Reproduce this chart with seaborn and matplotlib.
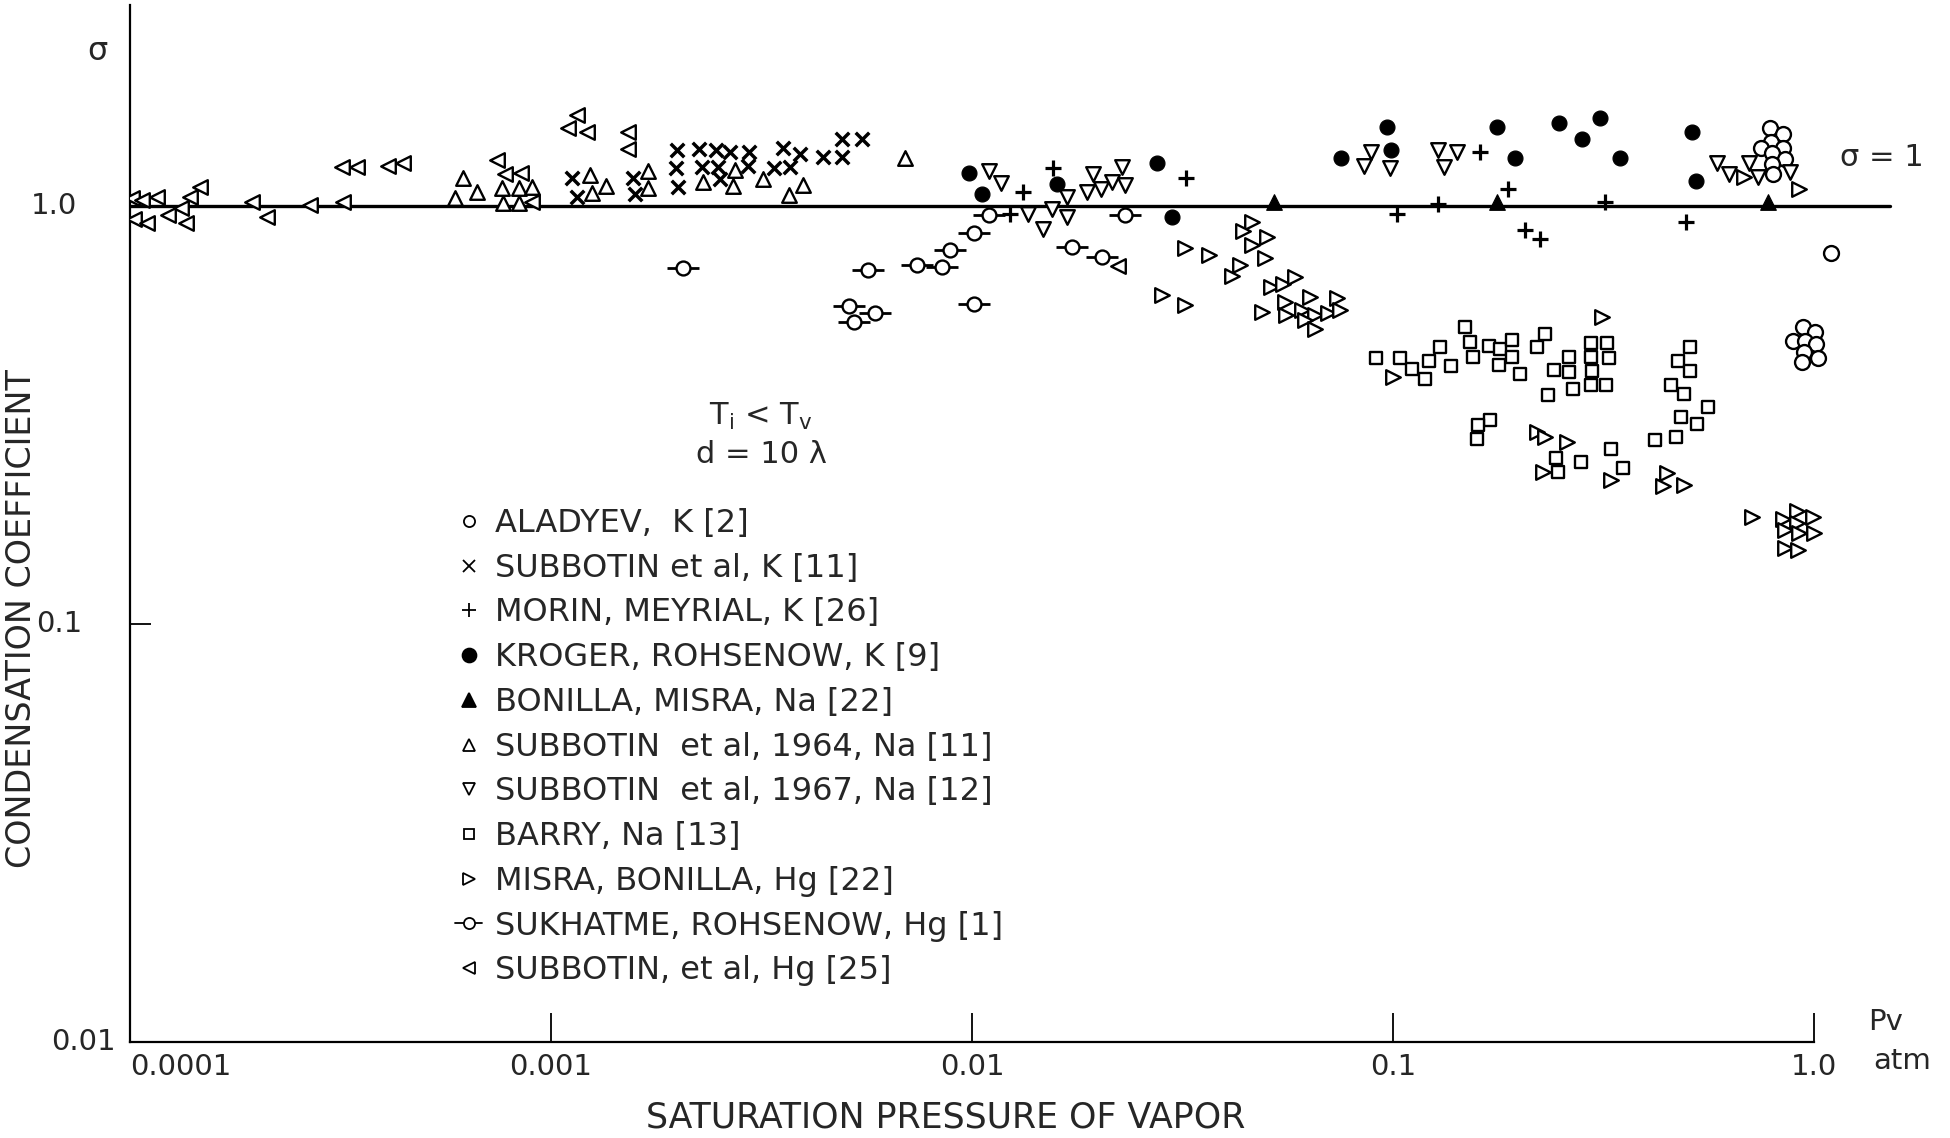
import numpy as np
import matplotlib
matplotlib.use('Agg')
import matplotlib.pyplot as plt
import seaborn as sns
from matplotlib.lines import Line2D
from matplotlib.ticker import NullLocator

sns.set_style('ticks')
plt.rcParams['font.family'] = ['DejaVu Sans']

# ---- data (pressure in atm, condensation coefficient) ----
aladyev_p = [0.786, 0.843, 0.791, 0.748, 0.843, 0.795, 0.853, 0.795, 0.799, 1.097,
             0.942, 1.005, 0.891, 0.952, 1.01, 0.947, 0.936, 1.022]
aladyev_s = [1.537, 1.487, 1.423, 1.377, 1.377, 1.339, 1.296, 1.26, 1.193, 0.772,
             0.513, 0.499, 0.475, 0.475, 0.468, 0.447, 0.423, 0.433]

subbotin_k_p = [1.12e-3, 1.15e-3, 1.57e-3, 1.58e-3, 1.99e-3, 1.98e-3, 2.00e-3, 2.25e-3,
                2.29e-3, 2.47e-3, 2.66e-3, 2.49e-3, 2.52e-3, 2.95e-3, 2.94e-3, 3.56e-3,
                3.39e-3, 3.70e-3, 3.90e-3, 4.42e-3, 4.91e-3, 4.91e-3, 5.48e-3]
subbotin_k_s = [1.167, 1.05, 1.17, 1.068, 1.36, 1.23, 1.11, 1.37, 1.24, 1.36, 1.35, 1.24,
                1.16, 1.35, 1.25, 1.38, 1.23, 1.24, 1.33, 1.31, 1.45, 1.31, 1.45]

morin_p = [0.0132, 0.0123, 0.01556, 0.0322, 0.102, 0.128, 0.188, 0.206, 0.224, 0.161,
           0.319, 0.497]
morin_s = [1.08, 0.957, 1.23, 1.17, 0.957, 1.01, 1.10, 0.876, 0.834, 1.35, 1.02, 0.916]

kroger_p = [9.84e-3, 0.01057, 0.0159, 0.0275, 0.0298, 0.0752, 0.0968, 0.0989, 0.177,
            0.195, 0.248, 0.281, 0.310, 0.346, 0.513, 0.525]
kroger_s = [1.20, 1.068, 1.13, 1.27, 0.941, 1.30, 1.545, 1.36, 1.545, 1.30, 1.58, 1.45,
            1.62, 1.30, 1.50, 1.15]

bonilla_p = [0.0521, 0.177, 0.778]
bonilla_s = [1.02, 1.02, 1.02]

subbotin64_p = [6.18e-4, 6.67e-4, 5.91e-4, 7.65e-4, 8.40e-4, 9.02e-4, 7.69e-4, 8.40e-4,
                1.24e-3, 1.25e-3, 1.35e-3, 1.70e-3, 1.70e-3, 2.30e-3, 2.74e-3, 2.70e-3,
                3.19e-3, 3.97e-3, 3.68e-3, 6.93e-3]
subbotin64_s = [1.167, 1.08, 1.045, 1.104, 1.104, 1.11, 1.017, 1.017, 1.186, 1.074, 1.117,
                1.21, 1.104, 1.14, 1.22, 1.117, 1.16, 1.12, 1.06, 1.30]

subbotin67_p = [0.01096, 0.01171, 0.0136, 0.01475, 0.0155, 0.0168, 0.0168, 0.01876,
                0.01937, 0.0202, 0.0215, 0.0227, 0.0231, 0.0887, 0.0853, 0.0984, 0.128,
                0.142, 0.132, 0.589, 0.628, 0.702, 0.736, 0.877]
subbotin67_s = [1.21, 1.135, 0.957, 0.881, 0.984, 0.941, 1.05, 1.08, 1.19, 1.10, 1.14,
                1.24, 1.12, 1.35, 1.25, 1.23, 1.36, 1.35, 1.24, 1.267, 1.193, 1.267,
                1.173, 1.206]

barry_p = [0.148, 0.152, 0.155, 0.129, 0.122, 0.137, 0.111, 0.119, 0.104, 0.0912, 0.169,
           0.180, 0.192, 0.192, 0.179, 0.200, 0.230, 0.220, 0.262, 0.241, 0.262, 0.268,
           0.233, 0.295, 0.322, 0.295, 0.326, 0.297, 0.295, 0.320, 0.507, 0.475, 0.507,
           0.457, 0.491, 0.560, 0.483, 0.527, 0.470, 0.419, 0.170, 0.159, 0.158, 0.244,
           0.246, 0.280, 0.330, 0.352]
barry_s = [0.513, 0.473, 0.435, 0.460, 0.426, 0.414, 0.407, 0.386, 0.433, 0.433, 0.463,
           0.455, 0.478, 0.435, 0.417, 0.396, 0.494, 0.460, 0.435, 0.405, 0.401, 0.365,
           0.353, 0.470, 0.470, 0.435, 0.433, 0.403, 0.373, 0.373, 0.460, 0.426, 0.403,
           0.373, 0.355, 0.331, 0.313, 0.301, 0.280, 0.275, 0.308, 0.299, 0.277, 0.249,
           0.231, 0.244, 0.262, 0.236]

misra_p = [0.0462, 0.0441, 0.0502, 0.0462, 0.0497, 0.0434, 0.0415, 0.0321, 0.0366, 0.0282,
           0.0321, 0.0489, 0.0513, 0.0548, 0.0585, 0.0553, 0.0557, 0.0635, 0.0608, 0.0653,
           0.0618, 0.0653, 0.0702, 0.0736, 0.0748, 0.313, 0.100, 0.220, 0.230, 0.259,
           0.227, 0.330, 0.448, 0.438, 0.491, 0.713, 0.912, 0.994, 0.843, 0.912, 1.0,
           0.853, 0.921, 0.853, 0.917, 0.683, 0.920]
misra_s = [0.916, 0.871, 0.843, 0.806, 0.751, 0.722, 0.680, 0.793, 0.764, 0.612, 0.580,
           0.558, 0.640, 0.651, 0.676, 0.589, 0.548, 0.606, 0.564, 0.548, 0.534, 0.508,
           0.555, 0.603, 0.564, 0.543, 0.390, 0.288, 0.280, 0.272, 0.231, 0.221, 0.230,
           0.214, 0.215, 0.180, 0.186, 0.180, 0.178, 0.174, 0.165, 0.168, 0.165, 0.152,
           0.150, 1.173, 1.098]

sukhatme_p = [2.06e-3, 5.66e-3, 5.10e-3, 5.25e-3, 5.89e-3, 7.40e-3, 8.49e-3, 8.87e-3,
              0.0101, 0.0110, 0.0101, 0.0173, 0.0204, 0.0231]
sukhatme_s = [0.711, 0.703, 0.577, 0.528, 0.555, 0.722, 0.715, 0.785, 0.862, 0.952,
              0.583, 0.798, 0.755, 0.952]

subbotin_hg_p = [1.01e-4, 1.07e-4, 1.16e-4, 1.02e-4, 1.10e-4, 1.23e-4, 1.32e-4, 1.36e-4,
                 1.39e-4, 1.47e-4, 1.95e-4, 2.12e-4, 2.68e-4, 3.21e-4, 3.19e-4, 3.46e-4,
                 4.10e-4, 4.45e-4, 7.44e-4, 7.78e-4, 8.49e-4, 9.02e-4, 1.15e-3, 1.10e-3,
                 1.22e-3, 1.52e-3, 1.52e-3, 0.0222]
subbotin_hg_s = [1.045, 1.034, 1.05, 0.931, 0.911, 0.952, 0.989, 0.911, 1.05, 1.11, 1.022,
                 0.941, 1.006, 1.022, 1.24, 1.24, 1.25, 1.27, 1.29, 1.19, 1.20, 1.02, 1.65,
                 1.54, 1.50, 1.50, 1.37, 0.719]

sigma_line_p = [1e-4, 1.515]
sigma_line_s = [1.0, 1.0]

legend_labels = ['ALADYEV,  K [2]', 'SUBBOTIN et al, K [11]', 'MORIN, MEYRIAL, K [26]',
                 'KROGER, ROHSENOW, K [9]', 'BONILLA, MISRA, Na [22]',
                 'SUBBOTIN  et al, 1964, Na [11]', 'SUBBOTIN  et al, 1967, Na [12]',
                 'BARRY, Na [13]', 'MISRA, BONILLA, Hg [22]',
                 'SUKHATME, ROHSENOW, Hg [1]', 'SUBBOTIN, et al, Hg [25]']

xtick_vals = [1e-4, 1e-3, 1e-2, 1e-1, 1.0]
xtick_labels = ['0.0001', '0.001', '0.01', '0.1', '1.0']
ytick_vals = [1.0, 0.1, 0.01]
ytick_labels = ['1.0', '0.1', '0.01']

W, H = 1950, 1138
fig = plt.figure(figsize=(W / 100, H / 100), dpi=100)
ax = fig.add_axes([130 / W, 96 / H, 1770 / W, 1037 / H])
ax.set_xscale('log')
ax.set_yscale('log')

# reference line sigma = 1 (open markers sit on top of it)
sns.lineplot(x=sigma_line_p, y=sigma_line_s, color='black', lw=2.4, ax=ax, zorder=1)

open_kw = dict(color='white', edgecolor='black', linewidth=1.7, ax=ax, zorder=3)
series = [
    (aladyev_p, aladyev_s, 'o', 115),
    (subbotin64_p, subbotin64_s, '^', 110),
    (subbotin67_p, subbotin67_s, 'v', 110),
    (barry_p, barry_s, 's', 78),
    (misra_p, misra_s, '>', 110),
    (subbotin_hg_p, subbotin_hg_s, '<', 110),
]
for p, s, m, size in series:
    sns.scatterplot(x=p, y=s, marker=m, s=size, **open_kw)

# line-type markers
sns.scatterplot(x=subbotin_k_p, y=subbotin_k_s, marker='x', s=95, color='black',
                linewidth=2.5, ax=ax, zorder=3)
sns.scatterplot(x=morin_p, y=morin_s, marker='+', s=120, color='black',
                linewidth=2.3, ax=ax, zorder=3)
# filled markers
sns.scatterplot(x=kroger_p, y=kroger_s, marker='o', s=115, color='black',
                edgecolor='black', ax=ax, zorder=3)
sns.scatterplot(x=bonilla_p, y=bonilla_s, marker='^', s=125, color='black',
                edgecolor='black', ax=ax, zorder=3)
# circle with a dash through it
sns.scatterplot(x=sukhatme_p, y=sukhatme_s, marker='_', s=520, color='black',
                linewidth=2.0, ax=ax, zorder=3)
sns.scatterplot(x=sukhatme_p, y=sukhatme_s, marker='o', s=100, **open_kw)

ax.set_xlim(1e-4, 10 ** 0.2043)
ax.set_ylim(0.01, 10 ** 0.4809)
sns.despine(ax=ax)
for side in ['left', 'bottom']:
    ax.spines[side].set_linewidth(1.6)
    ax.spines[side].set_color('black')
ax.spines['bottom'].set_bounds(1e-4, 1.0)

ax.set_xticks(xtick_vals[1:])
ax.set_yticks([0.1])
ax.xaxis.set_minor_locator(NullLocator())
ax.yaxis.set_minor_locator(NullLocator())
ax.tick_params(axis='x', direction='in', length=21, width=1.3, bottom=True,
               labelbottom=False, color='black')
ax.tick_params(axis='y', direction='in', length=15, width=1.3, left=True,
               labelleft=False, color='black')
ax.set_xlabel('')
ax.set_ylabel('')

fs = 21
xt = ax.get_xaxis_transform()
for v, lab in zip(xtick_vals, xtick_labels):
    ha = 'left' if v == xtick_vals[0] else 'center'
    ax.text(v, -25 / 1037, lab, transform=xt, ha=ha, va='center', fontsize=fs)
yt = ax.get_yaxis_transform()
for v, lab, xr in zip(ytick_vals, ytick_labels, [-53, -48, -14]):
    ax.text(xr / 1770, v, lab, transform=yt, ha='right', va='center', fontsize=fs)

fig.text(946 / W, 1 - 1117 / H, 'SATURATION PRESSURE OF VAPOR', ha='center',
         va='center', fontsize=25)
fig.text(22 / W, 1 - 619 / H, 'CONDENSATION COEFFICIENT', ha='center', va='center',
         rotation=90, fontsize=24)
fig.text(97 / W, 1 - 52 / H, 'σ', ha='center', va='center', fontsize=23)
fig.text(1882 / W, 1 - 158 / H, 'σ = 1', ha='center', va='center', fontsize=22)
fig.text(1868 / W, 1 - 1022 / H, 'Pv', ha='left', va='center', fontsize=fs)
fig.text(1873 / W, 1 - 1061 / H, 'atm', ha='left', va='center', fontsize=fs)
fig.text(761 / W, 1 - 416 / H, 'T$_\\mathregular{i}$ < T$_\\mathregular{v}$',
         ha='center', va='center', fontsize=22)
fig.text(761 / W, 1 - 455 / H, 'd = 10 λ', ha='center', va='center', fontsize=22)

lk = dict(linestyle='none', markeredgecolor='black', markeredgewidth=1.3)
handles = [
    Line2D([], [], marker='o', markersize=8, markerfacecolor='white', **lk),
    Line2D([], [], marker='x', markersize=8, color='black', **lk),
    Line2D([], [], marker='+', markersize=10, color='black', **lk),
    Line2D([], [], marker='o', markersize=10, markerfacecolor='black', **lk),
    Line2D([], [], marker='^', markersize=10, markerfacecolor='black', **lk),
    Line2D([], [], marker='^', markersize=8, markerfacecolor='white', **lk),
    Line2D([], [], marker='v', markersize=8, markerfacecolor='white', **lk),
    Line2D([], [], marker='s', markersize=7, markerfacecolor='white', **lk),
    Line2D([], [], marker='>', markersize=8, markerfacecolor='white', **lk),
    Line2D([], [], marker='o', markersize=8, markerfacecolor='white', color='black',
           lw=1.3, markeredgecolor='black', markeredgewidth=1.3),
    Line2D([], [], marker='<', markersize=8, markerfacecolor='white', **lk),
]
ax.legend(handles, legend_labels, loc='upper left',
          bbox_to_anchor=(455 / W, 1 - 508 / H), bbox_transform=fig.transFigure,
          frameon=False, fontsize=23, handlelength=0.85, handletextpad=0.4,
          labelspacing=0.43, borderpad=0, borderaxespad=0)

fig.savefig('out.png', dpi=100, facecolor='white')
